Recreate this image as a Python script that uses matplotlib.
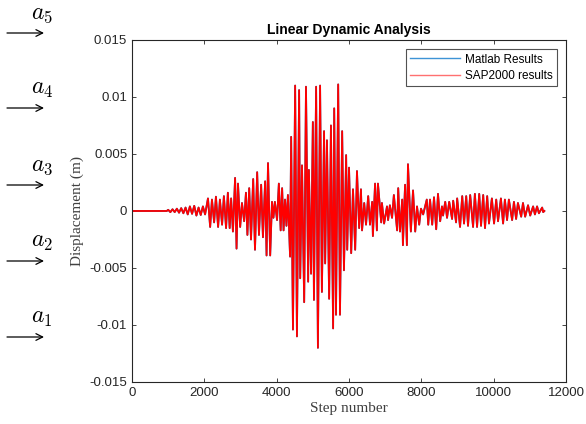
import numpy as np
import matplotlib
matplotlib.use('Agg')
import matplotlib.pyplot as plt

# peaks (step number, displacement in mm)
peak_steps = [0, 960, 1000, 1060, 1120, 1180, 1240, 1300, 1360, 1420, 1480, 1540, 1600, 1660,
              1720, 1780, 1840, 1900, 1960, 2020,
              2100, 2160, 2210, 2270, 2320, 2380, 2430, 2490, 2540, 2600, 2650, 2700, 2740, 2790,
              2850, 2890, 2930, 2990, 3040, 3100, 3150, 3190, 3240, 3290, 3350, 3400, 3460, 3510,
              3570, 3620, 3680, 3720, 3760, 3820, 3870, 3910, 3950, 4010, 4060, 4110, 4150, 4190,
              4230, 4270, 4310, 4370, 4400, 4450, 4510, 4560, 4620, 4650, 4700, 4760, 4810, 4870,
              4890, 4950, 5000, 5030, 5090, 5140, 5200, 5250, 5310, 5340, 5390, 5450, 5500, 5560,
              5590, 5640, 5700, 5750, 5810, 5860, 5920, 5950, 6000, 6060, 6110, 6170, 6220, 6280,
              6330, 6360, 6420, 6470, 6530, 6580, 6640, 6660, 6720, 6770, 6800, 6890, 6910, 6970,
              7050, 7080, 7130, 7190, 7240, 7330, 7360, 7410, 7470, 7490, 7550, 7600, 7630, 7710,
              7770, 7830, 7880, 7940, 7990, 8050, 8150, 8190, 8240, 8300, 8350, 8410, 8460, 8520,
              8570, 8600, 8660, 8710, 8770, 8850, 8880, 8960, 8990, 9070, 9130, 9180, 9240, 9290,
              9350, 9430, 9480, 9540, 9600, 9650, 9710, 9760, 9820, 9870, 9950, 10010, 10070, 10120,
              10200, 10260, 10310, 10370, 10420, 10510, 10560, 10620, 10670, 10760, 10810, 10870,
              10950, 11010, 11090, 11140, 11200, 11250, 11340, 11370, 11400]
peak_disp_mm = [0, 0, 0.1, -0.1, 0.15, -0.1, 0.2, -0.15, 0.25, -0.2, 0.3, -0.3, 0.4, -0.25,
                0.45, -0.4, 0.3, -0.35, 0.4, -0.3,
                1.1, -1.4, 1.0, -1.0, 1.25, -1.4, 1.0, -1.2, 1.3, -1.5, 1.6, -1.5, 1.1, -1.8,
                2.9, -3.3, 2.4, -1.4, 0.7, -0.9, 1.6, -2.1, 2.0, -2.5, 2.8, -3.4, 3.4, -2.1,
                2.3, -2.3, 2.6, -3.9, 4.2, -3.9, 0.8, -0.6, 0.8, -0.8, 2.4, -1.7, 2.0, -1.7,
                1.0, -1.3, 1.4, -4.0, 6.5, -10.4, 11.0, -11.0, 10.6, -5.9, 4.0, -8.0, 10.9, -6.2,
                3.6, -5.5, 7.8, -7.8, 10.9, -12.0, 11.0, -7.1, 7.0, -4.6, 6.2, -7.7, 7.5, -10.3,
                9.0, -9.1, 11.1, -9.1, 7.0, -5.2, 4.9, -3.4, 3.8, -3.7, 1.9, -3.4, 3.5, -1.5,
                1.9, -1.7, 0.7, -1.2, 1.3, -1.2, 0.8, -2.2, 2.4, -1.7, 2.4, -1.0, 0.7, -1.1,
                0.4, -0.8, 0.5, -0.6, 1.4, -1.7, 2.0, -1.8, 1.0, -3.0, 2.3, -3.0, 4.1, -1.8,
                1.8, -1.8, 0.4, -1.2, 0.2, -0.3, 1.0, -1.2, 1.0, -1.2, 1.2, -1.6, 1.5, -0.9,
                0.4, -0.4, 0.8, -0.6, 0.8, -0.7, 0.9, -1.0, 1.1, -1.4, 1.3, -1.1, 1.3, -1.3,
                1.4, -1.4, 1.5, -1.4, 1.5, -1.3, 1.4, -1.5, 1.3, -1.1, 1.1, -1.1, 1.0, -0.9,
                1.1, -1.1, 1.0, -0.8, 1.0, -0.8, 0.8, -0.7, 0.7, -0.5, 0.7, -0.5,
                0.5, -0.4, 0.4, -0.3, 0.4, -0.2, 0.3, -0.1, 0.0]

x_ticks = [0, 2000, 4000, 6000, 8000, 10000, 12000]
y_ticks = [-0.015, -0.01, -0.005, 0, 0.005, 0.01, 0.015]
y_tick_labels = ['-0.015', '-0.01', '-0.005', '0', '0.005', '0.01', '0.015']
level_labels = ['$a_5$', '$a_4$', '$a_3$', '$a_2$', '$a_1$']

steps = np.array(peak_steps)
matlab_disp = np.array(peak_disp_mm) / 1000.0
sap_disp = np.array(peak_disp_mm) / 1000.0

plt.rcParams['font.family'] = ['Liberation Sans', 'DejaVu Sans']
plt.rcParams['mathtext.fontset'] = 'cm'
plt.rcParams['axes.unicode_minus'] = False

fig = plt.figure(figsize=(5.86, 4.24), dpi=100)
ax = fig.add_axes([0.2253, 0.0991, 0.7406, 0.8066])

ax.plot(steps, matlab_disp, color='#0072BD', lw=1.3, label='Matlab Results')
ax.plot(steps, sap_disp, color='#ff0000', lw=1.3, label='SAP2000 results')

ax.set_xlim(0, 12000)
ax.set_ylim(-0.015, 0.015)
ax.set_xticks(x_ticks)
ax.set_xticklabels([str(t) for t in x_ticks])
ax.set_yticks(y_ticks)
ax.set_yticklabels(y_tick_labels)
ax.tick_params(direction='in', top=True, right=True, length=3, width=0.6,
               labelsize=9.5, colors='#262626')
for s in ax.spines.values():
    s.set_linewidth(0.8)
    s.set_color('#262626')

ax.set_title('Linear Dynamic Analysis', fontsize=10, fontweight='bold', pad=4)
ax.set_xlabel('Step number', family='Liberation Serif', fontsize=11, color='#404040', labelpad=2)
ax.set_ylabel('Displacement (m)', family='Liberation Serif', fontsize=11, color='#404040', labelpad=4)

leg = ax.legend(loc='upper right', fontsize=8.5, frameon=True, fancybox=False,
                borderpad=0.35, handlelength=4.2, handletextpad=0.4, labelspacing=0.35,
                borderaxespad=0.8)
leg.get_frame().set_edgecolor('#262626')
leg.get_frame().set_linewidth(0.8)
leg.get_lines()[0].set_color('#3d93d6')
leg.get_lines()[0].set_linewidth(1.0)
leg.get_lines()[1].set_color('#ff7070')
leg.get_lines()[1].set_linewidth(1.0)

# floor arrows on the left side (pixels from top)
arrow_y = [33, 108, 185, 261, 337]
H = 424
for lab, yy in zip(level_labels, arrow_y):
    fig.text(42 / 586, (H - yy + 19) / H, lab, fontsize=17, ha='center', va='center')
    ax.annotate('', xy=(44, H - yy), xytext=(7, H - yy), xycoords='figure pixels',
                textcoords='figure pixels',
                arrowprops=dict(arrowstyle='->', lw=0.9, color='black',
                                shrinkA=0, shrinkB=0, mutation_scale=12))

fig.savefig('out.png', dpi=100)
